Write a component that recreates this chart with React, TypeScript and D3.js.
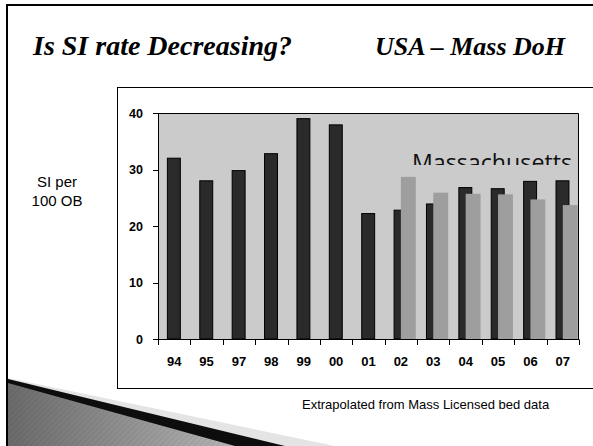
import React from "react";
import * as d3 from "d3";

const years = ["94", "95", "97", "98", "99", "00", "01", "02", "03", "04", "05", "06", "07"];
const seriesDark = [32.0, 28.0, 29.8, 32.8, 39.0, 37.9, 22.2, 22.8, 23.9, 26.8, 26.6, 27.9, 28.0];
const seriesGrey: (number | null)[] = [null, null, null, null, null, null, null, 28.7, 25.9, 25.7, 25.6, 24.7, 23.7];
const yTicks = [0, 10, 20, 30, 40];

const W = 593;
const H = 446;

export default function App() {
  const x = d3.scaleBand<string>().domain(years).range([158, 579]).padding(0);
  const y = d3.scaleLinear().domain([0, 40]).range([339, 113]);
  const bw = x.bandwidth();
  const boundaries = years.map((c) => x(c)!).concat([x.range()[1]]);

  return (
    <svg width={W} height={H} style={{ position: "absolute", left: 0, top: 0, background: "#fff" }}>
      <defs>
        <linearGradient id="wedge" x1="0" y1="0" x2="1" y2="0">
          <stop offset="0" stopColor="#6a6a6a" />
          <stop offset="1" stopColor="#b4b4b4" />
        </linearGradient>
        <pattern id="hatch" width="4" height="4" patternUnits="userSpaceOnUse" patternTransform="rotate(45)">
          <line x1="0" y1="0" x2="0" y2="4" stroke="#000" strokeOpacity={0.12} strokeWidth={1} />
        </pattern>
        <clipPath id="massClip">
          <rect x={158} y={113} width={421} height={52} />
        </clipPath>
      </defs>
      <rect x={0} y={0} width={W} height={H} fill="#fff" />
      {/* slide frame */}
      <path d={`M7,${H} L7,5 L${W},5`} fill="none" stroke="#000" strokeWidth={2} />
      {/* bottom-left decoration */}
      <polygon points={`8,378 335,${H} 8,${H}`} fill="#e4e4e4" />
      <polygon points={`8,379 285,${H} 8,${H}`} fill="#0d0d0d" />
      <polygon points={`8,383 235,${H} 8,${H}`} fill="url(#wedge)" />
      <polygon points={`8,383 235,${H} 8,${H}`} fill="url(#hatch)" />

      {/* title */}
      <text x={33} y={55} fontFamily="Liberation Serif" fontWeight="bold" fontStyle="italic" fontSize={28}>
        Is SI rate Decreasing?
      </text>
      <text x={375} y={55} fontFamily="Liberation Serif" fontWeight="bold" fontStyle="italic" fontSize={26}>
        USA – Mass DoH
      </text>

      {/* chart box */}
      <rect x={117.5} y={87.5} width={490} height={301} fill="#fff" stroke="#000" strokeWidth={1} />

      {/* plot area */}
      <rect x={158} y={113} width={421} height={226} fill="#cbcbcb" />

      {/* Massachusetts label clipped */}
      <text
        x={412}
        y={171}
        fontFamily="Open Sans"
        fontSize={24}
        textLength={160}
        lengthAdjust="spacingAndGlyphs"
        fill="#111"
        clipPath="url(#massClip)"
      >
        Massachusetts
      </text>

      {/* bars */}
      {years.map((c, i) => (
        <rect
          key={"d" + c}
          x={x(c)! + bw * 0.29}
          y={y(seriesDark[i])}
          width={bw * 0.4}
          height={y(0) - y(seriesDark[i])}
          fill="#2a2a2a"
          stroke="#000"
          strokeWidth={1}
        />
      ))}
      {years.map((c, i) =>
        seriesGrey[i] == null ? null : (
          <rect
            key={"g" + c}
            x={x(c)! + bw * 0.5}
            y={y(seriesGrey[i] as number)}
            width={bw * 0.46}
            height={y(0) - y(seriesGrey[i] as number)}
            fill="#9e9e9e"
          />
        )
      )}

      {/* plot area border top/right */}
      <path d={`M158.5,113.5 L578.5,113.5 L578.5,339`} fill="none" stroke="#000" strokeWidth={1} />
      {/* y axis */}
      <line x1={158.5} x2={158.5} y1={113} y2={339.5} stroke="#000" strokeWidth={1} />
      {yTicks.map((t) => (
        <g key={"y" + t}>
          <line x1={153} x2={158.5} y1={Math.round(y(t)) + 0.5} y2={Math.round(y(t)) + 0.5} stroke="#000" />
          <text
            x={143}
            y={y(t) + 4.5}
            textAnchor="end"
            fontFamily="Liberation Sans"
            fontWeight="bold"
            fontSize={12.5}
          >
            {t}
          </text>
        </g>
      ))}
      {/* x axis */}
      <line x1={153} x2={579} y1={339.5} y2={339.5} stroke="#000" strokeWidth={1} />
      {boundaries.map((b, i) => (
        <line key={"xt" + i} x1={Math.round(b) + 0.5} x2={Math.round(b) + 0.5} y1={339.5} y2={345} stroke="#000" />
      ))}
      {years.map((c) => (
        <text
          key={"xl" + c}
          x={x(c)! + bw / 2}
          y={366}
          textAnchor="middle"
          fontFamily="Liberation Sans"
          fontWeight="bold"
          fontSize={13}
        >
          {c}
        </text>
      ))}

      {/* y axis title */}
      <text x={57} y={187} textAnchor="middle" fontFamily="Liberation Sans" fontSize={15}>
        SI per
      </text>
      <text x={57} y={206} textAnchor="middle" fontFamily="Liberation Sans" fontSize={15}>
        100 OB
      </text>

      {/* footer */}
      <text x={302} y={409} fontFamily="Liberation Sans" fontSize={13}>
        Extrapolated from Mass Licensed bed data
      </text>
    </svg>
  );
}
